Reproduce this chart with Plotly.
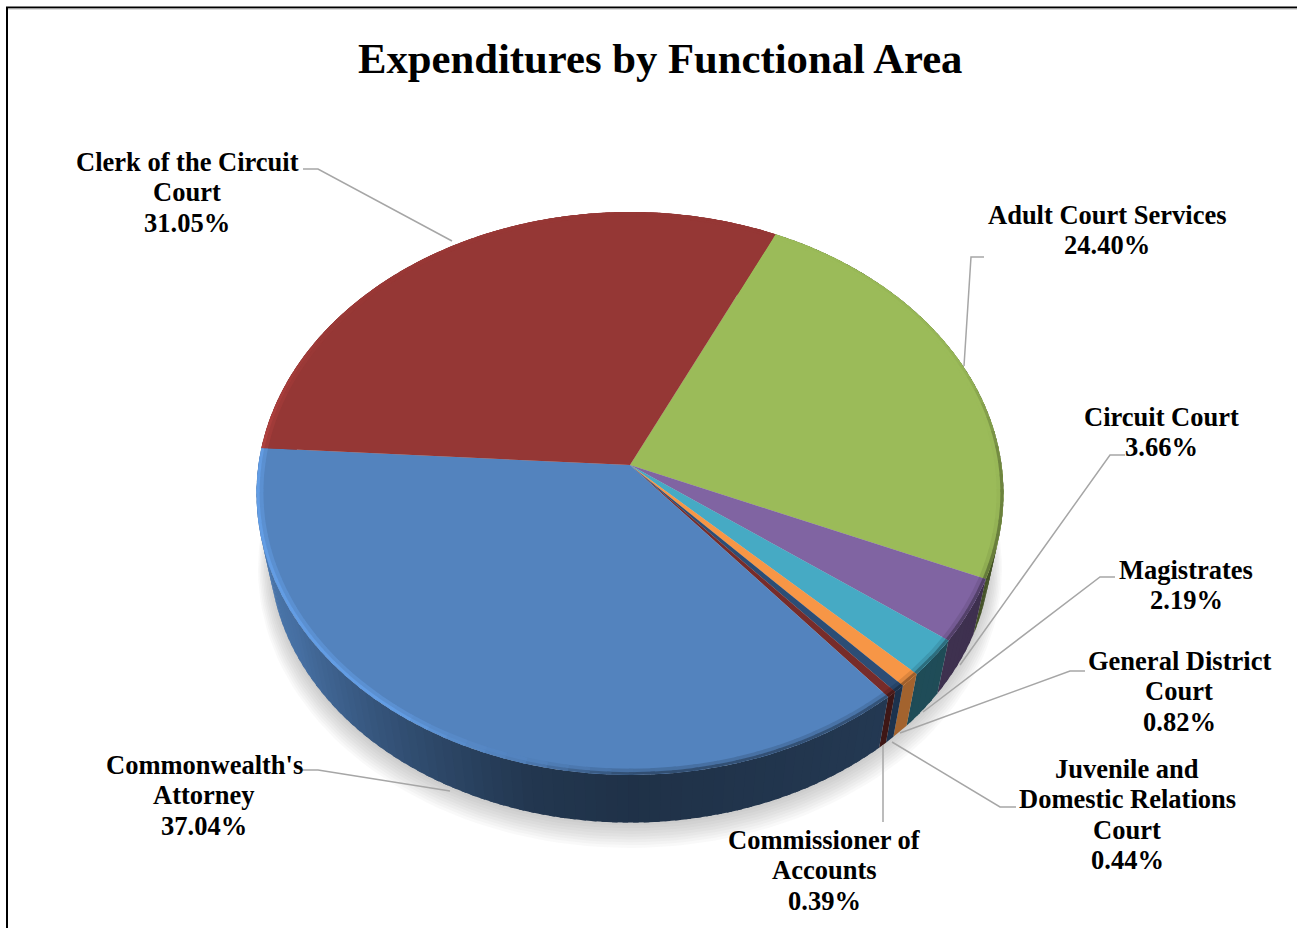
import numpy as np
import plotly.graph_objects as go

# ---- data ----
title = "Expenditures by Functional Area"
categories = ["Adult Court Services", "Circuit Court", "Magistrates", "General District Court",
              "Juvenile and Domestic Relations Court", "Commissioner of Accounts",
              "Commonwealth's Attorney", "Clerk of the Circuit Court"]
values = [24.40, 3.66, 2.19, 0.82, 0.44, 0.39, 37.04, 31.05]
label_lines = [["Adult Court Services"], ["Circuit Court"], ["Magistrates"],
               ["General District", "Court"], ["Juvenile and", "Domestic Relations", "Court"],
               ["Commissioner of", "Accounts"], ["Commonwealth's", "Attorney"],
               ["Clerk of the Circuit", "Court"]]

# ---- style and layout ----
colors = ["#9BBB59", "#8064A2", "#46AAC4", "#F79646", "#2C4D75", "#772C2A", "#5383BE", "#953735"]
side_gain = [1.0, 1.1, 1.0, 1.5, 1.5, 1.2, 1.0, 1.0]
start_angle = 25.3
CX, CY, R, A, K = 630.0, 465.0, 371.6, 278.6, 0.1012   # perspective of the pie top
BX, BY, BDEP = 0.965, 0.96, 60.0                       # lower rim of the pie
label_x = [1107, 1161, 1186, 1179, 1127, 824, 204, 187]
label_y = [215, 417, 570, 661, 769, 840, 765, 162]
line_step = 30.3
leaders = [[(984, 257), (971, 257), (964, 366)],
           [(1125, 455), (1110, 455), (960, 665)],
           [(1115, 577), (1100, 577), (923, 712)],
           [(1085, 671), (1070, 671), (900, 733)],
           [(1016, 807), (1000, 807), (892, 742)],
           [(883, 822), (883, 745)],
           [(302, 770), (318, 770), (450, 791)],
           [(303, 169), (318, 169), (452, 241)]]
FONT = "Liberation Serif"


def top(theta, r=1.0):
    t = np.radians(np.asarray(theta, dtype=float))
    X, Y = r * np.sin(t), r * np.cos(t)
    den = 1 + K * Y
    return CX + R * X / den, CY - A * Y / den


def bottom(theta, grow=1.0):
    x, y = top(theta)
    return CX + grow * BX * (x - CX), CY + BDEP + grow * BY * (y - CY)


def shade(hex_color, f):
    rgb = [int(hex_color[i:i + 2], 16) for i in (1, 3, 5)]
    return "rgb(%d,%d,%d)" % tuple(min(255, int(c * f)) for c in rgb)


def poly(fig, xs, ys, color):
    fig.add_trace(go.Scatter(x=list(xs), y=list(ys), mode="lines", fill="toself", fillcolor=color,
                             line=dict(color=color, width=0),
                             hoverinfo="skip", showlegend=False))


def rim(fig, r_out, r_in, knots, factors):
    for c, a0, a1 in zip(colors, edges[:-1], edges[1:]):
        n = max(1, int((a1 - a0) / 3))
        th = np.linspace(a0, a1, n + 1)
        for i, (p, q) in enumerate(zip(th[:-1], th[1:])):
            f = np.interp((p + q) / 2, knots, factors)
            seg = np.linspace(p, min(a1, q + 0.6), 4)
            ox, oy = top(seg, r_out)
            ix, iy = top(seg, r_in)
            poly(fig, np.r_[ox, ix[::-1]], np.r_[oy, iy[::-1]], shade(c, f))


fig = go.Figure()
total = sum(values)
edges = start_angle + np.concatenate([[0], np.cumsum(values)]) / total * 360

# soft shadow beneath the pie
ring = np.linspace(0, 360, 181)
for i in range(9):
    bx, by = bottom(ring, 1.0 + 0.004 * i)
    poly(fig, bx, by + 3 + 1.6 * i, "rgba(90,90,90,0.04)")

# side wall: overlapping strips for a smooth gradient
for c, a0, a1, g in zip(colors, edges[:-1], edges[1:], side_gain):
    n = max(1, int((a1 - a0) / 1.5))
    th = np.linspace(a0, a1, n + 1)
    order = range(n) if (a0 + a1) / 2 > 180 else range(n - 1, -1, -1)
    for i in order:
        p, q = th[i], th[i + 1]
        f = np.interp((p + q) / 2, [60, 130, 180, 195, 215, 240, 265, 300],
                      [.42, .45, .38, .42, .6, .85, .95, .95]) * g
        lo, hi = (p, min(a1, q + 0.8)) if (a0 + a1) / 2 <= 180 else (max(a0, p - 0.8), q)
        seg = np.linspace(lo, hi, 4)
        tx, ty = top(seg)
        bx, by = bottom(seg)
        poly(fig, np.r_[tx, bx[::-1]], np.r_[ty, by[::-1]], shade(c, f))

# top face wedges
for c, a0, a1 in zip(colors, edges[:-1], edges[1:]):
    th = np.linspace(a0, a1, max(3, int(a1 - a0) + 2))
    x, y = top(th)
    poly(fig, np.r_[CX, x], np.r_[CY, y], c)

# bevel along the rim of the top face: a soft inner band and a stronger outer band
rim(fig, 0.993, 0.982, [25, 80, 100, 113, 180, 195, 215, 270, 300, 386],
    [1, 1, .97, .92, .85, 1, 1.1, 1.1, 1.02, 1])
rim(fig, 1.0, 0.992, [25, 70, 90, 113, 180, 195, 215, 270, 300, 386],
    [1, .96, .72, .66, .6, .95, 1.2, 1.2, 1.04, 1])

# leader lines
for pts in leaders:
    fig.add_trace(go.Scatter(x=[p[0] for p in pts], y=[p[1] for p in pts], mode="lines",
                             line=dict(color="#A6A6A6", width=1.5), hoverinfo="skip", showlegend=False))

notes = []
for lines, v, lx, ly in zip(label_lines, values, label_x, label_y):
    for j, t in enumerate(lines + [f"{v:.2f}%"]):
        notes.append(dict(x=lx, y=ly + j * line_step, xref="x", yref="y", text=f"<b>{t}</b>", showarrow=False,
                          xanchor="center", yanchor="middle", font=dict(family=FONT, size=26.5, color="#000000")))
notes.append(dict(x=660, y=58, xref="x", yref="y", text=f"<b>{title}</b>", showarrow=False, xanchor="center",
                  yanchor="middle", font=dict(family=FONT, size=42.7, color="#000000")))

frame = [dict(type="line", xref="x", yref="y", x0=7, x1=7, y0=7, y1=928, line=dict(color="#000000", width=2)),
         dict(type="line", xref="x", yref="y", x0=6, x1=1297, y0=7.5, y1=7.5, line=dict(color="#000000", width=2)),
         dict(type="line", xref="x", yref="y", x0=8, x1=1297, y0=9, y1=9, line=dict(color="#BBBBBB", width=1))]

fig.update_layout(width=1297, height=928, margin=dict(l=0, r=0, t=0, b=0), paper_bgcolor="white",
                  plot_bgcolor="white", showlegend=False, annotations=notes, shapes=frame,
                  xaxis=dict(range=[0, 1297], visible=False, fixedrange=True),
                  yaxis=dict(range=[928, 0], visible=False, fixedrange=True))
fig.write_html("out.html", config=dict(displayModeBar=False),
               post_script="document.body.style.margin='0';document.body.style.overflow='hidden';")
